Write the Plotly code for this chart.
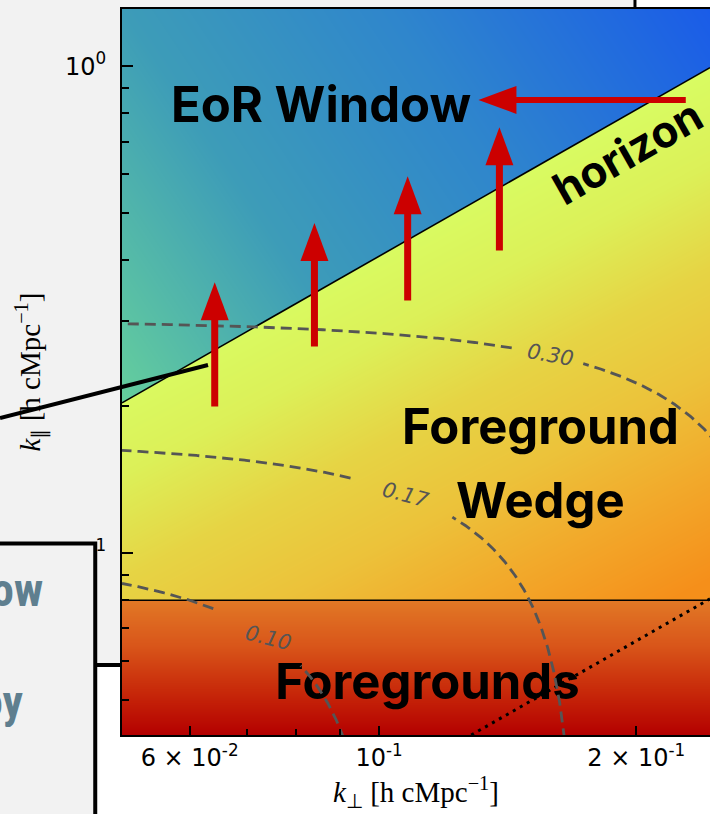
import numpy as np
import plotly.graph_objects as go

# ---- axis extents (h cMpc^-1) ----
KPERP_MIN, KPERP_MAX = 0.05, 0.244
KPAR_MIN, KPAR_MAX = 0.0423, 1.31

# ---- boundaries of the three regions ----
HORIZON_SLOPE = 4.07   # horizon: k_par = HORIZON_SLOPE * k_perp
BEAM_SLOPE = 0.33      # dotted line: k_par = BEAM_SLOPE * k_perp
FG_KPAR = 0.08         # horizontal line bounding the intrinsic foregrounds

# ---- constant-|k| contours ----
CONTOUR_LEVELS = [0.10, 0.17, 0.30]
CONTOUR_TEXT = ["0.10", "0.17", "0.30"]
LABEL_KPERP = [0.0742, 0.1074, 0.1587]
GAP_KPERP = [(0.064, 0.0809), (0.0926, 0.1218), (0.1432, 0.1733)]
LABEL_ANGLE = [14, 15, 10]

# ---- arrows ----
V_ARROW_KPERP = [0.0642, 0.0840, 0.108, 0.1383]
V_ARROW_FROM = [0.1985, 0.2636, 0.3277, 0.415]
V_ARROW_TO = [0.360, 0.476, 0.594, 0.749]
H_ARROW_KPAR = 0.852
H_ARROW_FROM = 0.2295
H_ARROW_TO = 0.1307

# ---- region labels ----
REGION_TEXT = ["EoR Window", "Foreground", "Wedge"]
REGION_KPERP = [0.0856, 0.1545, 0.1545]
REGION_KPAR = [0.835, 0.1823, 0.1285]
HORIZON_TEXT, HORIZON_POS = "horizon", (0.1952, 0.666)
FG_TEXT, FG_POS = "Foregrounds", (0.1139, 0.0531)

# ---- ticks ----
X_TICKS = [0.06, 0.1, 0.2]
X_TICKTEXT = ["6 × 10<sup>-2</sup>", "10<sup>-1</sup>", "2 × 10<sup>-1</sup>"]
X_MINOR = [0.07, 0.08, 0.09, 0.3]
Y_TICKS = [0.1, 1.0]
Y_TICKTEXT = ["10<sup>-1</sup>", "10<sup>0</sup>"]
Y_MINOR = [0.05, 0.06, 0.07, 0.08, 0.09, 0.2, 0.3, 0.4, 0.5, 0.6, 0.7, 0.8, 0.9]

RED = "#cc0000"
LABEL_FONT = "Inter"
log = np.log10

# ---------------------------------------------------------------------------
# Background shading: one colour ramp per region, packed into one scale
# (EoR window 0-0.33, wedge 0.34-0.66, foregrounds 0.67-1).
NX, NY = 588, 726
lx = np.linspace(log(KPERP_MIN), log(KPERP_MAX), NX + 1)
ly = np.linspace(log(KPAR_MIN), log(KPAR_MAX), NY + 1)
cx = 0.5 * (lx[:-1] + lx[1:])
cy = 0.5 * (ly[:-1] + ly[1:])
U = ((cx - lx[0]) / (lx[-1] - lx[0]))[None, :]
V = ((cy - ly[0]) / (ly[-1] - ly[0]))[:, None]
KX = (10 ** cx)[None, :]
KY = (10 ** cy)[:, None]
eor = KY > HORIZON_SLOPE * KX
fg = np.broadcast_to(KY <= FG_KPAR, eor.shape)

t = 0.55 * U + 0.45 * V
shade_eor = 0.33 * np.clip(1 - (t - 0.2) / 0.8, 0, 1)
w = 0.7 * (1 - V) + 0.3 * U
shade_wedge = 0.34 + 0.32 * np.clip((w - 0.35) / 0.5, 0, 1)
vf = np.clip((log(KY) - log(KPAR_MIN)) / (log(FG_KPAR) - log(KPAR_MIN)), 0, 1)
shade_fg = 0.67 + 0.33 * (1 - vf) + 0 * U

shade = np.where(eor, shade_eor, np.where(fg, shade_fg, shade_wedge))
shade = np.round(shade * 1000).astype(np.uint16)

SHADE_SCALE = [
    [0.000, "#1a5ce8"], [0.124, "#2f86cc"], [0.227, "#3d9cb8"], [0.330, "#66d09c"],
    [0.335, "#d8fe64"], [0.404, "#dcf058"], [0.468, "#e6d444"], [0.532, "#ecc23a"],
    [0.596, "#f2a82a"], [0.660, "#f58f1a"],
    [0.665, "#e27a26"], [0.780, "#d9561a"], [0.890, "#c82a0a"], [1.000, "#b40000"],
]

fig = go.Figure()
fig.add_trace(go.Heatmap(
    x=10 ** lx, y=10 ** ly, z=shade, zmin=0, zmax=1000,
    colorscale=SHADE_SCALE, showscale=False, zsmooth=False, hoverinfo="skip",
))

# "Foregrounds" sits under the curves that cross it
fig.add_trace(go.Scatter(
    x=[FG_POS[0]], y=[FG_POS[1]], mode="text", text=[FG_TEXT],
    textposition="middle center", hoverinfo="skip",
    textfont=dict(family=LABEL_FONT, size=49, color="black", weight="bold"),
))

# horizon, foreground cut and dotted line
xs = np.array([KPERP_MIN, KPERP_MAX])
fig.add_trace(go.Scatter(x=xs, y=HORIZON_SLOPE * xs, mode="lines",
                         line=dict(color="black", width=1.6), hoverinfo="skip"))
fig.add_trace(go.Scatter(x=xs, y=[FG_KPAR, FG_KPAR], mode="lines",
                         line=dict(color="black", width=1.6), hoverinfo="skip"))
xb = np.array([KPAR_MIN / BEAM_SLOPE, KPERP_MAX])
fig.add_trace(go.Scatter(x=xb, y=BEAM_SLOPE * xb, mode="lines",
                         line=dict(color="black", width=3, dash="3px,5px"), hoverinfo="skip"))

# constant-|k| contours, broken where their labels sit
for r, (g0, g1) in zip(CONTOUR_LEVELS, GAP_KPERP):
    th = np.linspace(np.arcsin(0.98 * KPAR_MIN / r), np.arccos(KPERP_MIN / r), 700)
    kx = r * np.cos(th)
    ky = r * np.sin(th)
    keep = kx <= KPERP_MAX * 1.02
    kx, ky = kx[keep], ky[keep]
    xl = [None if g0 < a < g1 else float(a) for a in kx]
    yl = [None if g0 < a < g1 else float(b) for a, b in zip(kx, ky)]
    fig.add_trace(go.Scatter(x=xl, y=yl, mode="lines", connectgaps=False,
                             line=dict(color="#555555", width=2.8, dash="11px,6px"),
                             hoverinfo="skip"))

annotations = []
shapes = []

for r, txt, kx, ang in zip(CONTOUR_LEVELS, CONTOUR_TEXT, LABEL_KPERP, LABEL_ANGLE):
    ky = np.sqrt(r ** 2 - kx ** 2)
    annotations.append(dict(
        x=log(kx), y=log(ky), xref="x", yref="y", text=txt, showarrow=False,
        textangle=ang, font=dict(family="DejaVu Sans", size=21, color="#555555", style="italic"),
    ))

for txt, kx, ky in zip(REGION_TEXT, REGION_KPERP, REGION_KPAR):
    annotations.append(dict(
        x=log(kx), y=log(ky), xref="x", yref="y", text=txt, showarrow=False,
        font=dict(family=LABEL_FONT, size=49, color="black", weight="bold"),
    ))
annotations.append(dict(
    x=log(HORIZON_POS[0]), y=log(HORIZON_POS[1]), xref="x", yref="y", text=HORIZON_TEXT,
    showarrow=False, textangle=-29.7,
    font=dict(family=LABEL_FONT, size=44, color="black", weight="bold"),
))

# arrows: shaft as annotation, head as a pixel-sized triangle at the tip
HEAD_LEN, HEAD_HALF = 38, 14
for kx, k0, k1 in zip(V_ARROW_KPERP, V_ARROW_FROM, V_ARROW_TO):
    annotations.append(dict(
        x=log(kx), y=log(k1), ax=log(kx), ay=log(k0), xref="x", yref="y",
        axref="x", ayref="y", text="", showarrow=True, arrowhead=0,
        arrowwidth=7, arrowcolor=RED, standoff=HEAD_LEN - 2,
    ))
    shapes.append(dict(
        type="path", xref="x", yref="y", xsizemode="pixel", ysizemode="pixel",
        xanchor=kx, yanchor=k1, layer="above",
        path=f"M0,0 L{-HEAD_HALF},{-HEAD_LEN} L{HEAD_HALF},{-HEAD_LEN} Z",
        fillcolor=RED, line=dict(width=0),
    ))
annotations.append(dict(
    x=log(H_ARROW_TO), y=log(H_ARROW_KPAR), ax=log(H_ARROW_FROM), ay=log(H_ARROW_KPAR),
    xref="x", yref="y", axref="x", ayref="y", text="", showarrow=True, arrowhead=0,
    arrowwidth=6, arrowcolor=RED, standoff=HEAD_LEN - 2,
))
shapes.append(dict(
    type="path", xref="x", yref="y", xsizemode="pixel", ysizemode="pixel",
    xanchor=H_ARROW_TO, yanchor=H_ARROW_KPAR, layer="above",
    path=f"M0,0 L{HEAD_LEN},{HEAD_HALF} L{HEAD_LEN},{-HEAD_HALF} Z",
    fillcolor=RED, line=dict(width=0),
))

# surrounding panels of the composite figure
PANEL = "#f2f2f2"
shapes += [
    dict(type="rect", xref="paper", yref="paper", x0=-0.21, x1=0, y0=0.0964, y1=1.02,
         fillcolor=PANEL, line=dict(width=0), layer="below"),
    dict(type="rect", xref="paper", yref="paper", x0=-0.21, x1=0.8724, y0=1.0, y1=1.02,
         fillcolor=PANEL, line=dict(width=0), layer="below"),
    dict(type="line", xref="paper", yref="paper", x0=0.8724, x1=0.8724, y0=1.0, y1=1.02,
         line=dict(color="black", width=3), layer="below"),
    dict(type="line", xref="paper", yref="paper", x0=-0.048, x1=0, y0=0.0964, y1=0.0964,
         line=dict(color="black", width=4), layer="above"),
    dict(type="rect", xref="paper", yref="paper", x0=-0.23, x1=-0.0455, y0=-0.12, y1=0.2637,
         fillcolor=PANEL, line=dict(color="black", width=4), layer="above"),
    dict(type="line", xref="paper", yref="paper", x0=-0.2075, y0=0.4366, x1=0.1463, y1=0.5096,
         line=dict(color="black", width=4), layer="above"),
]
SIDE_FONT = dict(family="Liberation Sans Narrow, Roboto Condensed, Roboto", size=46,
                 color="#5f7f8f", weight="bold")
annotations += [
    dict(x=-0.1310, y=0.1997, xref="paper", yref="paper", text="ow", showarrow=False,
         xanchor="right", yanchor="middle", font=SIDE_FONT),
    dict(x=-0.163, y=0.046, xref="paper", yref="paper", text="oy", showarrow=False,
         xanchor="right", yanchor="middle", font=SIDE_FONT),
]

axis_common = dict(
    type="log", showgrid=False, zeroline=False, showline=True, linecolor="black",
    linewidth=2, ticks="inside", tickcolor="black", tickwidth=1.5,
    tickfont=dict(family="DejaVu Sans", size=24, color="black"),
)
fig.update_xaxes(
    **axis_common, range=[log(KPERP_MIN), log(KPERP_MAX)], mirror=True,
    tickvals=X_TICKS, ticktext=X_TICKTEXT, ticklen=9, ticklabelstandoff=0,
    minor=dict(tickvals=X_MINOR, ticks="inside", ticklen=6, tickwidth=1.5, tickcolor="black"),
    title=dict(text="<i>k</i><sub>⊥</sub> [h cMpc<sup>−1</sup>]", standoff=8,
               font=dict(family="Liberation Serif", size=29, color="black")),
)
fig.update_yaxes(
    **axis_common, range=[log(KPAR_MIN), log(KPAR_MAX)],
    tickvals=Y_TICKS, ticktext=Y_TICKTEXT, ticklen=11, ticklabelstandoff=9,
    minor=dict(tickvals=Y_MINOR, ticks="inside", ticklen=7, tickwidth=1.5, tickcolor="black"),
    title=dict(text="<i>k</i><sub>∥</sub> [h cMpc<sup>−1</sup>]", standoff=10,
               font=dict(family="Liberation Serif", size=29, color="black")),
)
fig.update_layout(
    width=710, height=814, margin=dict(l=122, r=0, t=9, b=79),
    paper_bgcolor="white", plot_bgcolor="white", showlegend=False,
    annotations=annotations, shapes=shapes,
)
fig.write_html("out.html", config={"displayModeBar": False})
